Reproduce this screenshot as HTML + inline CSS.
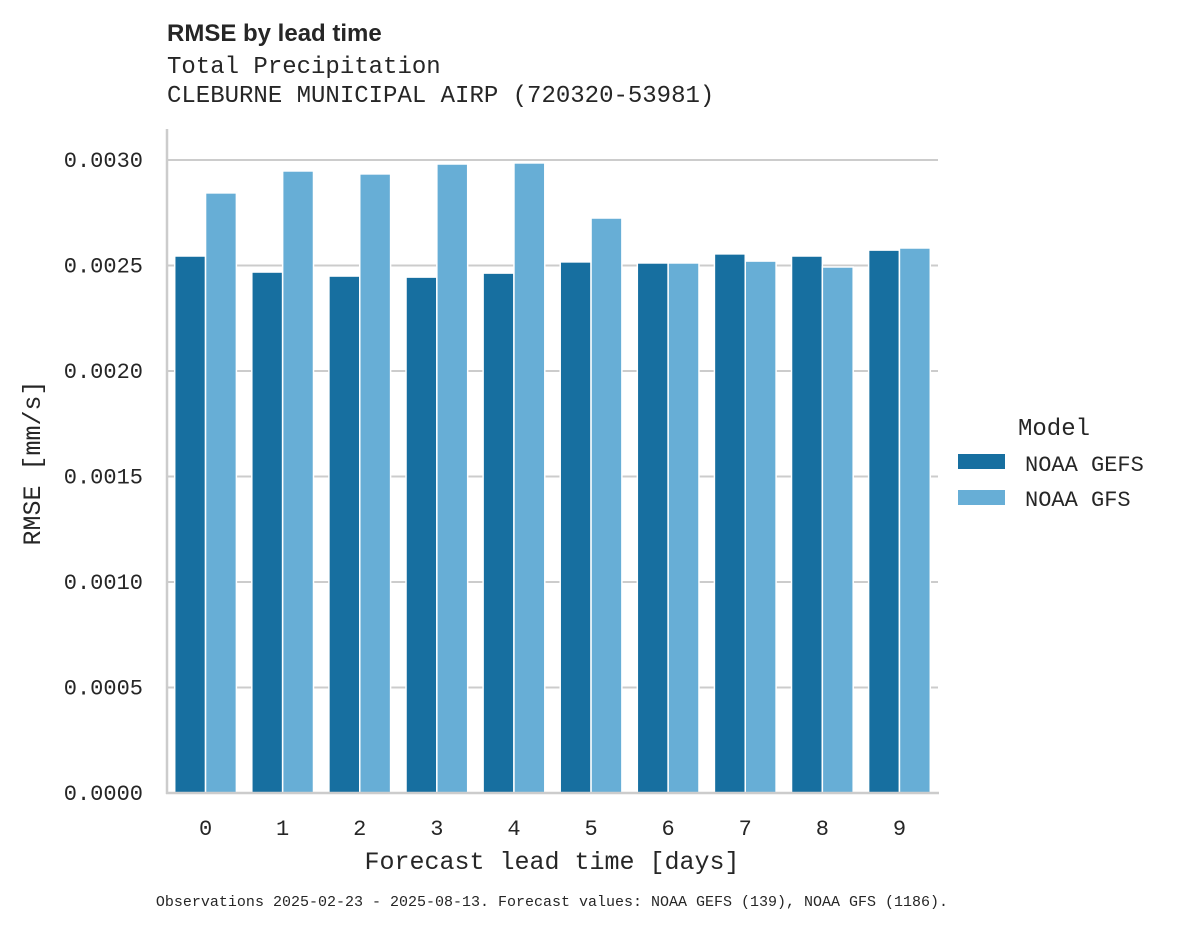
<!DOCTYPE html>
<html><head><meta charset="utf-8"><style>
body{margin:0;background:#fff;}
svg text{font-family:"Liberation Mono",monospace;fill:#262626;}
</style></head><body>
<svg id="chart" width="1178" height="928" xmlns="http://www.w3.org/2000/svg">
<text x="167" y="41" style="font-family:'Liberation Sans',sans-serif;font-weight:bold;font-size:24px">RMSE by lead time</text>
<text x="167" y="73" font-size="24">Total Precipitation</text>
<text x="167" y="102" font-size="24">CLEBURNE MUNICIPAL AIRP (720320-53981)</text>
<g id="grid"></g><g id="bars"></g><g id="ticks"></g>
<line x1="167" y1="129" x2="167" y2="794" stroke="#ccc" stroke-width="2.5"/>
<line x1="166" y1="793" x2="939" y2="793" stroke="#ccc" stroke-width="2.5"/>
<text x="552" y="869" font-size="25" text-anchor="middle">Forecast lead time [days]</text>
<text transform="translate(40,463) rotate(-90)" font-size="25" text-anchor="middle">RMSE [mm/s]</text>
<g>
<text x="1018" y="435" font-size="24">Model</text>
<rect x="958" y="454" width="47" height="15" fill="#176fa0"/>
<text x="1025" y="471" font-size="22">NOAA GEFS</text>
<rect x="958" y="490" width="47" height="15" fill="#67aed6"/>
<text x="1025" y="506" font-size="22">NOAA GFS</text>
</g>
<text x="552" y="906" font-size="15" text-anchor="middle">Observations 2025-02-23 - 2025-08-13. Forecast values: NOAA GEFS (139), NOAA GFS (1186).</text>
</svg>
<script>
const categories=[0,1,2,3,4,5,6,7,8,9];
const gefsValues=[0.002545,0.002469,0.00245,0.002445,0.002464,0.002517,0.002512,0.002555,0.002545,0.002573];
const gfsValues=[0.002844,0.002948,0.002934,0.002981,0.002986,0.002725,0.002512,0.002521,0.002493,0.002583];
const yTicks=[0,0.0005,0.001,0.0015,0.002,0.0025,0.003];
const yTickLabels=["0.0000","0.0005","0.0010","0.0015","0.0020","0.0025","0.0030"];
const NS="http://www.w3.org/2000/svg";
const x0=167,x1=938,y0=793,yTop=160;
const yS=v=>y0-(v/0.003)*(y0-yTop);
const gw=(x1-x0)/categories.length;
const xC=i=>x0+gw*(i+0.5);
function mk(t,a,p){const e=document.createElementNS(NS,t);for(const k in a)e.setAttribute(k,a[k]);p.appendChild(e);return e;}
const grid=document.getElementById('grid'),bars=document.getElementById('bars'),ticks=document.getElementById('ticks');
yTicks.forEach((v,i)=>{
 if(v>0){const l=mk('line',{x1:x0,x2:x1,y1:yS(v),y2:yS(v),stroke:'#ccc','stroke-width':2},grid);
 
 }
 const t=mk('text',{x:143,y:yS(v)+7,'font-size':22,'text-anchor':'end'},ticks);t.textContent=yTickLabels[i];
 
 
});
const bw=gw*0.4;
categories.forEach((c,i)=>{
 const cx=xC(i);
 const a=mk('rect',{x:cx-bw,y:yS(gefsValues[i]),width:bw,height:y0-yS(gefsValues[i]),fill:'#176fa0',stroke:'#fff','stroke-width':1.5},bars);
 
 
 const b=mk('rect',{x:cx,y:yS(gfsValues[i]),width:bw,height:y0-yS(gfsValues[i]),fill:'#67aed6',stroke:'#fff','stroke-width':1.5},bars);
 
 
 const t=mk('text',{x:cx,y:835,'font-size':22,'text-anchor':'middle'},ticks);t.textContent=c;
 
 
});
</script>
</body></html>
